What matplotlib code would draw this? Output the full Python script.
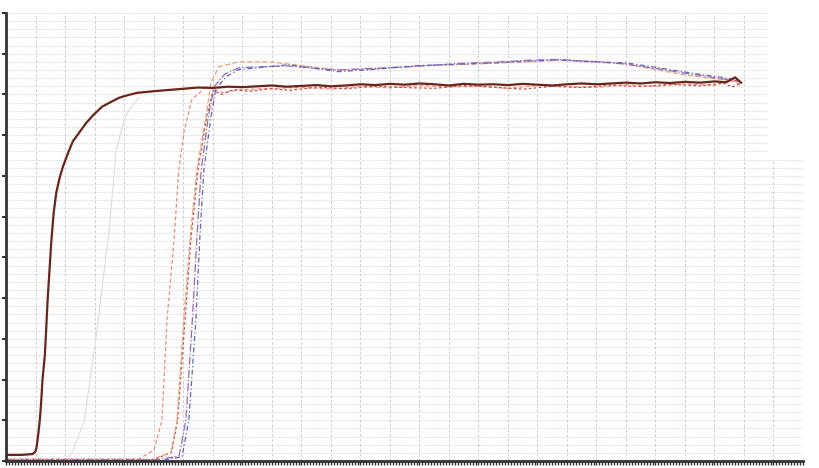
import matplotlib.pyplot as plt
from matplotlib.patches import Rectangle

# curva principal (marron, gruesa)
brown_x = [0, 0.5, 0.88, 0.97, 1.01, 1.05, 1.1, 1.14, 1.18, 1.22, 1.3, 1.35, 1.39,
           1.45, 1.52, 1.6, 1.69, 1.8, 1.9, 2.0, 2.13, 2.25, 2.4, 2.55, 2.7, 2.95,
           3.24, 3.5, 3.82, 4.1, 4.43, 5.0, 5.5, 6.0, 6.5, 7.0, 7.5, 8.0, 8.5, 9.0,
           9.5, 10.0, 10.5, 11.0, 11.5, 12.0, 12.5, 13.0, 13.5, 14.0, 14.5, 15.0,
           15.5, 16.0, 16.5, 17.0, 17.5, 18.0, 18.5, 19.0, 19.5, 20.0, 20.5, 21.0,
           21.5, 22.0, 22.5, 23.0, 23.5, 24.0, 24.4, 24.7, 24.9]
brown_y = [0.15, 0.15, 0.17, 0.22, 0.3, 0.5, 0.8, 1.1, 1.5, 2.0, 2.6, 3.3, 3.9,
           4.6, 5.4, 6.1, 6.6, 6.95, 7.2, 7.4, 7.64, 7.85, 8.0, 8.15, 8.3, 8.5,
           8.7, 8.8, 8.92, 8.98, 9.04, 9.08, 9.11, 9.14, 9.17, 9.16, 9.19, 9.18, 9.2,
           9.22, 9.19, 9.21, 9.23, 9.2, 9.22, 9.25, 9.23, 9.26, 9.24, 9.27, 9.25,
           9.22, 9.26, 9.24, 9.25, 9.23, 9.26, 9.24, 9.22, 9.25, 9.27, 9.25, 9.27,
           9.29, 9.27, 9.3, 9.28, 9.31, 9.29, 9.32, 9.3, 9.42, 9.29]

# curva gris tenue
gray_x = [1.96, 2.23, 2.64, 3.04, 3.48, 3.72, 3.99, 4.16, 4.49]
gray_y = [0.0, 0.2, 1.0, 3.05, 5.68, 7.64, 8.38, 8.62, 8.92]

# rosa (grupo inferior)
pink_x = [0, 4.49, 5.0, 5.27, 5.44, 5.68, 5.84, 6.01, 6.28, 6.76, 7.3, 8.0, 9.0,
          10.0, 11.0, 12.0, 13.0, 14.0, 15.0, 16.0, 17.0, 18.0, 19.0, 20.0, 21.0,
          22.0, 23.0, 24.0, 24.5, 24.9]
pink_y = [0.05, 0.05, 0.27, 1.0, 3.46, 5.43, 7.15, 8.06, 8.87, 9.19, 9.05, 9.12,
          9.15, 9.17, 9.13, 9.2, 9.16, 9.22, 9.18, 9.2, 9.15, 9.22, 9.19, 9.17, 9.24,
          9.2, 9.26, 9.22, 9.35, 9.25]

# rojo (grupo inferior)
red_x = [0, 5.0, 5.6, 5.8, 6.05, 6.25, 6.5, 6.8, 7.0, 7.3, 7.7, 8.2, 9.0, 9.6,
         10.5, 11.5, 12.5, 13.5, 14.5, 15.5, 16.5, 17.5, 18.5, 19.5, 20.5, 21.5,
         22.5, 23.5, 24.3, 24.6, 24.9]
red_y = [0.03, 0.03, 0.22, 1.0, 3.46, 5.43, 7.2, 8.5, 9.1, 9.0, 9.12, 9.08, 9.14,
         9.1, 9.18, 9.14, 9.2, 9.17, 9.15, 9.22, 9.18, 9.13, 9.2, 9.17, 9.23, 9.19,
         9.25, 9.21, 9.28, 9.18, 9.27]

# naranja (grupo superior)
orange_x = [0, 4.83, 5.57, 5.78, 6.01, 6.22, 6.45, 6.76, 6.93, 7.2, 7.87, 8.89,
            9.9, 11.25, 12.36, 13.95, 15.3, 16.66, 17.7, 18.68, 19.8, 20.95, 22.06,
            23.18, 24.32, 24.86]
orange_y = [0.02, 0.02, 0.2, 1.0, 3.46, 5.43, 7.15, 8.45, 9.29, 9.68, 9.8, 9.8,
            9.72, 9.6, 9.62, 9.7, 9.73, 9.77, 9.8, 9.84, 9.82, 9.76, 9.6, 9.46,
            9.36, 9.31]

# azul (grupo superior)
blue_x = [0, 5.17, 5.95, 6.18, 6.42, 6.55, 6.69, 6.93, 7.09, 7.43, 7.87, 9.56,
          11.25, 12.36, 13.95, 15.3, 16.66, 17.7, 18.68, 19.8, 20.95, 22.06, 23.18,
          24.32, 24.83]
blue_y = [0.0, 0.0, 0.1, 1.0, 3.46, 5.43, 7.15, 8.45, 9.12, 9.43, 9.61, 9.73, 9.56,
          9.61, 9.71, 9.74, 9.78, 9.82, 9.85, 9.8, 9.78, 9.66, 9.53, 9.41, 9.36]

# morado (grupo superior)
purple_x = [0, 5.1, 5.85, 6.08, 6.3, 6.45, 6.6, 6.85, 7.05, 7.4, 7.9, 9.5, 11.2,
            12.4, 13.9, 15.3, 16.7, 17.7, 18.7, 19.8, 20.9, 22.0, 23.2, 24.3, 24.85]
purple_y = [0.03, 0.03, 0.12, 1.0, 3.46, 5.43, 7.15, 8.5, 9.2, 9.5, 9.66, 9.7, 9.6,
            9.64, 9.69, 9.76, 9.8, 9.84, 9.86, 9.81, 9.75, 9.64, 9.5, 9.38, 9.33]

fig = plt.figure(figsize=(8.2, 4.68), dpi=100)
ax = fig.add_axes([6.5 / 820, 7 / 468, (803 - 6.5) / 820, 448 / 468])

ax.plot(gray_x, gray_y, color="#dcdcdc", lw=0.8)
ax.plot(pink_x, pink_y, color="#f08a80", lw=0.9, ls=(0, (3, 2)))
ax.plot(red_x, red_y, color="#c84a3a", lw=0.9, ls=(0, (2, 2)))
ax.plot(orange_x, orange_y, color="#e8a078", lw=0.9, ls=(0, (4, 2)))
ax.plot(purple_x, purple_y, color="#9a6aa8", lw=0.9, ls="-.")
ax.plot(blue_x, blue_y, color="#5a66c4", lw=0.9, ls=(0, (4, 2, 1, 2)))
ax.plot(brown_x, brown_y, color="#6a2418", lw=1.6)

ax.set_xlim(0, 27)
ax.set_ylim(0, 11)
ax.set_xticks(range(0, 28))
ax.set_xticks([i / 10 for i in range(0, 271)], minor=True)
ax.set_yticks(range(0, 12))
ax.set_yticks([i / 5 for i in range(0, 56)], minor=True)
ax.set_xticklabels([])
ax.set_yticklabels([])

ax.grid(True, axis="x", which="major", color="#cfcfcf", ls=(0, (3, 2)), lw=0.7)
ax.grid(True, axis="y", which="both", color="#d2d2d2", ls=(0, (1.5, 1.5)), lw=0.6)
ax.set_axisbelow(True)

ax.spines["top"].set_visible(False)
ax.spines["right"].set_visible(False)
ax.spines["left"].set_linewidth(2)
ax.spines["bottom"].set_linewidth(2)
ax.spines["left"].set_color("#333333")
ax.spines["bottom"].set_color("#333333")
ax.tick_params(axis="x", which="both", direction="out", length=3, width=1, color="#333333")
ax.tick_params(axis="y", which="major", direction="out", length=3, width=1.5, color="#333333")
ax.tick_params(axis="y", which="minor", length=0)

# recorte blanco arriba a la derecha
ax.add_patch(Rectangle((0.957, 0.672), 0.06, 0.35, transform=ax.transAxes,
                       facecolor="white", edgecolor="none", zorder=1.5, clip_on=False))

fig.savefig("out.png", dpi=100)
